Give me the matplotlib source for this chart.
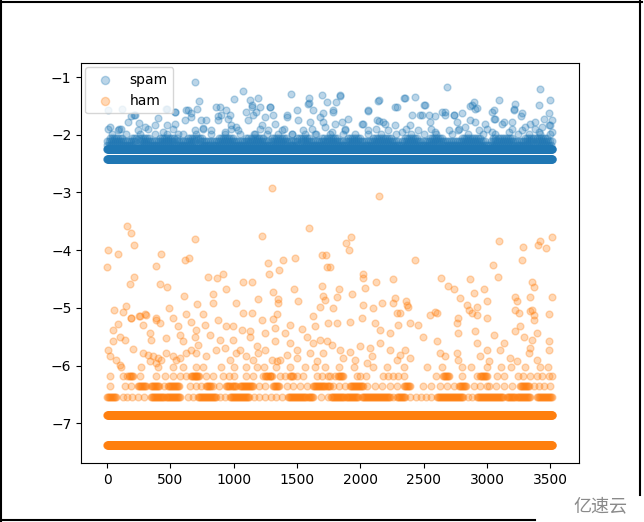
import matplotlib
matplotlib.use('Agg')
import matplotlib.pyplot as plt
from matplotlib.lines import Line2D
import numpy as np

n_messages = 3516

# levels hit by almost every message
spam_full_levels = [-2.42, -2.24]
ham_full_levels = [-7.38, -6.85]

# partly filled levels: level -> runs (x0, x1) of packed points, and single points
spam_runs = {
    -2.17: [(0, 3515)],
    -2.11: [(0, 230), (260, 700), (730, 1500), (1530, 2300), (2330, 3000), (3030, 3515)],
    -2.05: [(20, 120), (200, 330), (420, 560), (640, 760), (880, 1000), (1100, 1230),
            (1300, 1420), (1500, 1600), (1700, 1820), (1900, 2000), (2100, 2250),
            (2350, 2450), (2550, 2650), (2800, 2950), (3050, 3200), (3300, 3480)],
}
spam_singles = {
    -1.98: [40, 150, 260, 380, 470, 600, 700, 820, 930, 1050, 1160, 1260, 1350, 1460,
            1560, 1650, 1760, 1860, 1960, 2060, 2160, 2280, 2400, 2500, 2600, 2720,
            2850, 2970, 3060, 3240, 3330, 3420, 3500],
    -1.9: [90, 320, 520, 760, 980, 1210, 1400, 1620, 1880, 2120, 2360, 2560, 2780,
           3000, 3200, 3380],
}

ham_runs = {
    -6.55: [(0, 72), (349, 573), (718, 863), (969, 1127), (1430, 1628), (1770, 1983),
            (2010, 2234), (2286, 2350), (2603, 2814), (2919, 3130), (3160, 3340), (3394, 3515)],
    -6.35: [(243, 310), (349, 415), (481, 573), (784, 837), (942, 1021), (1048, 1153),
            (1311, 1364), (1628, 1760), (1917, 2023), (2340, 2392), (2780, 2840),
            (3262, 3341)],
    -6.18: [(170, 205), (660, 730), (1250, 1300), (1440, 1470), (1820, 1860),
            (2650, 2690), (2940, 2990)],
}
ham_singles = {
    -6.55: [125, 160, 200, 240, 290, 640, 680, 890, 930, 1160, 1200, 1250, 1290, 1330,
            1380, 1690, 1740, 2260, 2390, 2440, 2480, 2520, 2560, 2850, 2880],
    -6.35: [19, 138, 190, 450, 652, 705, 740, 880, 1200, 1246, 1418, 1470, 1523, 1580,
            1780, 1830, 1880, 2049, 2115, 2170, 2230, 2290, 2497, 2560, 2629, 2680, 2740,
            2893, 2940, 2999, 3012, 3070, 3130, 3200, 3368, 3410, 3447, 3499],
    -6.18: [19, 125, 160, 257, 389, 455, 520, 573, 626, 700, 784, 837, 916, 960, 1000,
            1100, 1153, 1232, 1285, 1364, 1404, 1496, 1550, 1654, 1700, 1740, 1760, 1800,
            1970, 2000, 2040, 2180, 2220, 2260, 2300, 2340, 2600, 2700, 2800, 2920, 3000,
            3080, 3130, 3240, 3280, 3340, 3390, 3430, 3490, 3515],
    -6.02: [110, 270, 400, 520, 600, 700, 760, 900, 1000, 1100, 1180, 1240, 1330, 1440,
            1560, 1640, 1720, 1830, 1950, 2100, 2210, 2340, 2524, 2640, 2801, 2870, 3000,
            3110, 3190, 3300, 3420, 3480],
}

# scattered messages
spam_x = [692, 6, 117, 1069, 1000, 1449, 1596, 1596, 1699, 1733, 723, 710, 858, 475, 534,
          185, 217, 251, 402, 473, 626, 665, 779, 876, 942, 955, 1021, 1127, 1140, 1193,
          1206, 1285, 1311, 1153, 1245, 1417, 1496, 1628, 1681, 1100,
          2687, 3415, 3500, 3407, 1838, 2149, 2344, 2431, 2286, 2511, 2057, 2405, 2471,
          2545, 2893, 2919, 2867, 3091, 3223, 3209, 3267, 3051, 3051, 2801, 2735, 2642,
          2669, 1806, 1785, 1904, 2149, 2181, 2023, 2392, 2867, 3130, 3196, 3341, 3447,
          3486, 3500,
          5, 111, 216, 164, 19, 85, 243, 296, 375, 467, 533, 533, 441, 638, 612, 665,
          744, 757, 823, 559, 691,
          889, 902, 968, 1140, 1179, 1285, 1588, 1707, 1786, 876, 981, 1113, 1219, 1324,
          1417, 1509, 1601, 1707, 1720, 1799, 929, 1034, 1166, 1271, 1377, 1456, 1548,
          1641, 1773,
          1839, 2142, 2353, 2063, 2274, 2498, 2485, 2590, 2669, 2735, 1852, 2010, 2129,
          2195, 2274, 2551, 2762, 1878, 2063, 2221, 2326, 2458, 2590, 2696,
          2880, 2906, 3038, 3210, 3275, 3513, 3064, 3381, 2906, 2985, 3117, 2827, 3302,
          3434, 3486, 2774, 2933, 3038, 3170, 3275, 3407, 3513]
spam_y = [-1.09, -1.58, -1.56, -1.25, -1.38, -1.3, -1.37, -1.45, -1.32, -1.43, -1.41, -1.55,
          -1.52, -1.55, -1.61, -1.68, -1.66, -1.8, -1.71, -1.84, -1.58, -1.63, -1.75, -1.67,
          -1.58, -1.72, -1.86, -1.4, -1.49, -1.37, -1.52, -1.52, -1.66, -1.66, -1.69, -1.69,
          -1.58, -1.58, -1.69, -1.6,
          -1.17, -1.2, -1.4, -1.48, -1.33, -1.4, -1.37, -1.35, -1.52, -1.49, -1.58, -1.66,
          -1.66, -1.65, -1.43, -1.54, -1.5, -1.4, -1.46, -1.55, -1.68, -1.58, -1.72, -1.63,
          -1.66, -1.61, -1.66, -1.43, -1.58, -1.72, -1.76, -1.78, -1.81, -1.84, -1.75,
          -1.78, -1.78, -1.81, -1.72, -1.63, -1.84,
          -1.9, -1.9, -1.66, -1.78, -1.86, -1.92, -1.92, -1.86, -1.84, -1.55, -1.6, -1.81,
          -1.95, -1.58, -1.75, -1.69, -1.75, -1.89, -1.92, -1.98, -1.92,
          -1.52, -1.66, -1.66, -1.52, -1.6, -1.52, -1.46, -1.63, -1.6, -1.75, -1.84, -1.75,
          -1.84, -1.81, -1.66, -1.75, -1.78, -1.78, -1.86, -1.81, -1.95, -1.92, -1.98,
          -1.92, -1.92, -1.98, -1.92, -1.98, -1.95,
          -1.32, -1.41, -1.37, -1.59, -1.52, -1.49, -1.66, -1.68, -1.6, -1.66, -1.78, -1.81,
          -1.75, -1.81, -1.84, -1.78, -1.78, -1.92, -1.92, -1.92, -1.95, -1.92, -1.95, -1.92,
          -1.49, -1.55, -1.6, -1.58, -1.63, -1.75, -1.72, -1.78, -1.78, -1.81, -1.81, -1.86,
          -1.86, -1.86, -1.84, -1.92, -1.92, -1.95, -1.95, -1.92, -1.95, -1.95]

ham_x = [1303, 159, 191, 209, 6, 0, 85, 692, 1219, 1596, 423, 383, 613, 644, 1272, 1280,
         1359, 1391, 1483, 1694, 1728, 1739, 209, 178, 415, 476, 797, 871, 916, 942, 1074,
         1140, 1195, 1311, 1351, 1351, 1475, 1509, 1699, 1702, 1720, 605, 837, 837, 1016,
         713, 489, 151, 125, 54, 626, 758, 1074, 1145, 1338, 1628, 1681, 191, 257, 301,
         383, 520,
         2149, 1886, 1922, 1912, 2431, 3091, 3283, 3275, 3415, 3399, 3468, 3513, 3046,
         3083, 1759, 2023, 2017, 2123, 2260, 2634, 2861, 2695, 2735, 2972, 2893, 2787,
         2999, 1833, 1812, 1930, 2036, 2017, 2102, 2168, 2273, 2260, 2286, 2313, 2379,
         2360, 2550, 2590, 2774, 2840, 2853, 2919, 2919, 2999, 3223, 3236, 3341, 3373,
         3354, 3513, 3223, 3249, 3354, 3368, 3486, 1785,
         191, 251, 309, 389, 415, 283, 85, 46, 560, 665, 771, 705, 876, 942, 995, 1061,
         1127, 1219, 1311, 1325, 1443, 1536, 1641, 1747,
         46, 98, 138, 204, 336, 349, 468, 573, 600, 692, 718, 810, 889, 929, 995, 1048,
         1127, 1180, 1246, 1325, 1404, 1443, 1496, 1575, 1628, 1681, 1733,
         6, 19, 72, 98, 283, 323, 362, 402, 428, 389, 336, 468, 520, 547, 573, 626, 665,
         705, 784, 863, 969, 1021, 1100, 1153, 1193, 1246, 1298, 1338, 1364, 1417, 1496,
         1601, 1654, 1707,
         1812, 1917, 2010, 2115, 2155, 2234, 2300, 2392, 2458, 2497, 2603, 2761, 2774,
         2906, 2919, 3051, 3130, 3223, 3262, 3288, 3354, 3394, 3486,
         1772, 1838, 1917, 1996, 2075, 2155, 2234, 2313, 2352, 2392, 2286, 2629, 2669,
         2761, 2774, 2946, 2999, 3012, 3104, 3183, 3236, 3328, 3341, 3394, 3486, 1864,
         1957, 2049, 2089, 2366, 2603, 2880, 3341, 3368]
ham_y = [-2.93, -3.58, -3.71, -3.92, -4.0, -4.29, -4.07, -3.81, -3.76, -3.61, -4.07, -4.27,
         -4.17, -4.14, -4.23, -4.42, -4.34, -4.17, -4.13, -4.08, -4.08, -4.3, -4.47, -4.59,
         -4.59, -4.64, -4.47, -4.49, -4.42, -4.67, -4.56, -4.56, -4.84, -4.72, -4.84,
         -4.92, -4.67, -4.89, -4.63, -4.79, -4.86, -4.79, -4.76, -4.91, -4.92, -4.94,
         -5.01, -4.97, -5.08, -5.04, -5.11, -5.11, -5.09, -5.09, -5.1, -5.15, -4.98, -5.17,
         -5.14, -5.11, -5.18, -5.18,
         -3.06, -3.88, -3.78, -4.0, -4.18, -3.85, -3.95, -4.17, -3.85, -3.91, -3.97, -3.78,
         -4.25, -4.47, -4.3, -4.41, -4.49, -4.55, -4.5, -4.49, -4.5, -4.62, -4.67, -4.67,
         -4.75, -4.83, -4.88, -4.67, -4.82, -4.76, -4.66, -4.96, -5.01, -4.91, -4.83,
         -4.91, -5.09, -5.09, -4.98, -4.89, -5.13, -5.08, -5.17, -4.95, -5.04, -4.98,
         -5.12, -5.17, -4.81, -4.89, -4.81, -4.64, -4.55, -4.82, -5.04, -5.09, -5.04,
         -5.12, -5.11, -5.01,
         -5.18, -5.14, -5.12, -5.21, -5.27, -5.3, -5.28, -5.38, -5.32, -5.24, -5.3, -5.38,
         -5.21, -5.32, -5.32, -5.38, -5.41, -5.21, -5.2, -5.35, -5.3, -5.37, -5.32, -5.27,
         -5.58, -5.5, -5.55, -5.72, -5.44, -5.56, -5.53, -5.47, -5.58, -5.5, -5.64, -5.47,
         -5.56, -5.7, -5.56, -5.73, -5.5, -5.67, -5.44, -5.58, -5.44, -5.61, -5.73, -5.5,
         -5.61, -5.56, -5.58,
         -5.73, -5.84, -5.9, -5.99, -5.79, -5.81, -5.84, -5.87, -5.9, -5.96, -5.93, -5.79,
         -5.84, -5.9, -5.87, -5.79, -5.73, -5.79, -5.84, -5.73, -5.9, -5.79, -5.84, -5.9,
         -5.79, -5.73, -5.9, -5.93, -5.9, -5.81, -5.87, -5.79, -5.93, -5.79,
         -5.27, -5.24, -5.18, -5.27, -5.38, -5.44, -5.3, -5.27, -5.3, -5.5, -5.58, -5.27,
         -5.44, -5.41, -5.61, -5.47, -5.61, -5.41, -5.32, -5.5, -5.56, -5.44, -5.58,
         -5.64, -5.73, -5.76, -5.67, -5.7, -5.61, -5.73, -5.81, -5.73, -5.87, -5.9, -5.79,
         -5.84, -5.79, -5.9, -5.84, -5.73, -5.93, -5.73, -5.87, -5.93, -5.79, -5.7, -5.9,
         -5.73, -5.87, -5.9, -5.96, -5.84, -4.95, -5.09, -5.09, -5.06, -5.21]


def build_series(full_levels, runs, singles, extra_x, extra_y, run_step):
    xs, ys = [], []
    idx = np.arange(n_messages)
    for lvl in full_levels:
        xs.append(idx)
        ys.append(np.full(n_messages, lvl))
    for lvl, segs in runs.items():
        for x0, x1 in segs:
            seg = np.arange(x0, x1 + 1, run_step)
            xs.append(seg)
            ys.append(np.full(len(seg), lvl))
    for lvl, pts in singles.items():
        xs.append(np.array(pts))
        ys.append(np.full(len(pts), lvl))
    xs.append(np.array(extra_x))
    ys.append(np.array(extra_y))
    return np.concatenate(xs), np.concatenate(ys)


sx, sy = build_series(spam_full_levels, spam_runs, spam_singles, spam_x, spam_y, 16)
hx, hy = build_series(ham_full_levels, ham_runs, ham_singles, ham_x, ham_y, 8)

fig = plt.figure(figsize=(6.44, 5.22), dpi=100)
ax = fig.add_axes([0.126, 0.113, 0.773, 0.766])

ax.scatter(sx, sy, s=24, alpha=0.3, label='spam')
ax.scatter(hx, hy, s=24, alpha=0.3, label='ham')
ax.set_xlim(-205, 3725)
ax.set_ylim(-7.69, -0.76)
ax.legend(loc='upper left', borderaxespad=0.3, markerscale=1.2)

# screenshot frame
fig.add_artist(Line2D([0.002, 0.002], [0, 0.998], color='black', lw=1.5, transform=fig.transFigure))
fig.add_artist(Line2D([0, 0.997], [0.997, 0.997], color='black', lw=1.5, transform=fig.transFigure))
fig.add_artist(Line2D([0.994, 0.994], [0.052, 1], color='black', lw=1.5, transform=fig.transFigure))
fig.add_artist(Line2D([0, 0.831], [0.003, 0.003], color='black', lw=1.5, transform=fig.transFigure))

# watermark
fig.text(0.975, 0.012, '亿速云', ha='right', va='bottom', fontsize=13, color='#8a8a8a',
         family=['Noto Sans CJK SC', 'DejaVu Sans'])

fig.savefig('out.png')
